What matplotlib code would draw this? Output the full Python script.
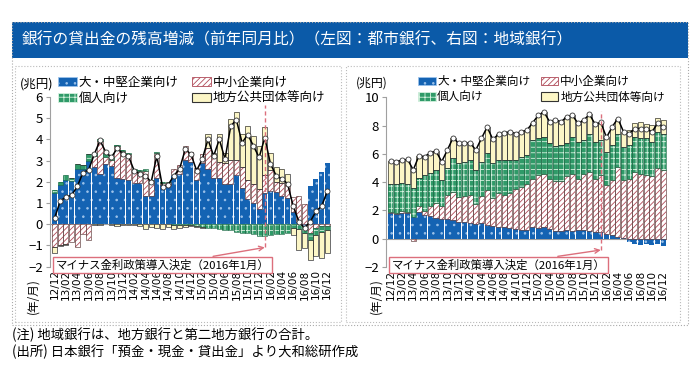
import numpy as np
import matplotlib.pyplot as plt
from matplotlib.patches import Rectangle, Patch

plt.rcParams['font.family'] = ['Noto Sans CJK JP', 'DejaVu Sans']
plt.rcParams['hatch.linewidth'] = 0.6

# months 2012/12 .. 2016/12
months = ['12/12'] + [f'{y:02d}/{m:02d}' for y in range(13, 17) for m in range(1, 13)]

labels = ['大・中堅企業向け', '中小企業向け', '個人向け', '地方公共団体等向け']

# left: city banks (trillion yen, y/y change)
city_large = [1.45, 1.85, 2.1, 2.05, 2.6, 2.6, 3.0, 2.7, 2.35, 2.85,
              2.75, 2.2, 2.15, 2.1, 1.95, 1.95, 1.35, 1.35, 2.2, 1.85,
              1.85, 2.3, 2.35, 3.05, 2.95, 2.1, 2.9, 2.6, 2.2, 2.2,
              1.9, 1.9, 2.3, 1.7, 1.2, 1.0, 0.7, 1.45, 1.55, 1.5,
              1.35, 1.25, 0.55, 0.1, -0.1, 1.8, 2.15, 2.45, 2.9]
city_small = [-1.1, -0.97, -0.95, -0.85, -1.1, -0.45, -0.75, 0.5, 1.55, 0.3,
              0.3, 1.5, 1.3, 1.2, 0.6, 0.55, 1.15, 0.75, 1.15, 0.1,
              0.15, 0.3, 0.45, 0.65, 0.45, 0.55, 0.4, 1.0, 1.0, 0.75,
              1.0, 1.15, 0.75, 1.0, 0.9, 0.9, 0.95, 0.85, 1.0, 0.5,
              0.6, 0.6, 0.75, 1.25, 0.95, -0.4, -0.2, -0.1, -0.1]
city_personal = [0.17, 0.15, 0.2, 0.15, 0.25, 0.2, 0.3, 0.15, 0.1, 0.2,
                 0.1, 0.05, 0.05, 0.05, 0.05, 0.05, 0.1, 0.0, 0.05, 0.05,
                 0.0, -0.05, -0.05, -0.05, -0.05, -0.1, -0.15, -0.2, -0.2, -0.25,
                 -0.3, -0.3, -0.35, -0.4, -0.4, -0.45, -0.55, -0.55, -0.5, -0.45,
                 -0.45, -0.4, -0.2, -0.25, -0.3, -0.35, -0.3, -0.25, -0.2]
city_local = [-0.25, -0.05, -0.05, 0.0, 0.0, 0.0, 0.0, -0.05, -0.05, 0.0,
              -0.05, -0.1, -0.05, -0.05, -0.05, -0.1, -0.25, -0.15, -0.2, -0.25,
              -0.15, -0.2, -0.15, -0.1, -0.05, -0.05, -0.05, 0.65, 0.15, 1.3,
              0.45, 1.9, 2.25, 1.55, 2.55, 2.25, 2.05, 2.3, 0.8, 0.7,
              0.65, 0.5, -0.3, -0.95, -0.75, -0.95, -1.0, -1.25, -1.05]
city_total = [0.28, 1.08, 1.29, 1.36, 1.78, 2.43, 2.56, 3.3, 3.95, 3.41,
              3.15, 3.57, 3.33, 3.22, 2.53, 2.37, 2.29, 1.98, 3.22, 1.75,
              1.86, 2.29, 2.6, 3.53, 3.3, 2.53, 3.07, 4.0, 3.22, 4.0,
              3.07, 4.62, 4.93, 3.84, 4.23, 3.69, 3.15, 4.08, 2.84, 2.29,
              2.14, 1.91, 0.85, 0.12, -0.19, 0.12, 0.6, 0.85, 1.55]

# right: regional banks
reg_large = [1.8, 1.75, 1.85, 1.8, 1.55, 1.9, 1.65, 1.6, 1.45, 1.4,
             1.4, 1.3, 1.2, 1.15, 1.1, 1.05, 1.1, 0.95, 0.9, 0.85,
             0.8, 0.75, 0.7, 0.65, 0.65, 0.8, 0.75, 0.8, 0.7, 0.55,
             0.55, 0.6, 0.55, 0.6, 0.6, 0.55, 0.5, 0.45, 0.3, 0.25,
             0.15, 0.05, -0.25, -0.4, -0.45, -0.35, -0.45, -0.4, -0.5]
reg_small = [0.1, 0.1, 0.1, 0.1, -0.15, 0.4, 0.3, 0.7, 1.1, 0.9,
             1.7, 2.0, 1.75, 1.85, 2.0, 1.4, 1.9, 2.5, 1.95, 2.35,
             2.3, 2.5, 2.85, 3.0, 3.25, 3.45, 3.75, 3.8, 3.55, 3.5,
             3.5, 3.8, 4.0, 3.65, 4.0, 4.2, 3.75, 4.05, 3.5, 3.9,
             4.95, 4.1, 4.25, 4.75, 4.6, 4.5, 4.4, 5.0, 4.85]
reg_personal = [2.0, 2.02, 1.97, 1.97, 2.05, 1.97, 2.55, 2.32, 2.31, 1.85,
                1.88, 2.38, 2.38, 2.45, 2.46, 2.41, 2.45, 2.58, 2.48, 2.36,
                2.5, 2.31, 2.01, 2.15, 2.0, 2.72, 2.59, 2.56, 2.49, 2.5,
                2.57, 2.34, 2.61, 2.6, 2.37, 2.69, 2.6, 2.47, 2.3, 2.47,
                2.34, 2.31, 2.37, 2.41, 2.49, 2.59, 2.45, 2.56, 2.54]
reg_local = [1.59, 1.58, 1.64, 1.74, 1.41, 1.6, 1.3, 1.46, 1.34, 1.3,
             1.29, 1.46, 1.41, 1.29, 1.22, 1.41, 1.64, 1.87, 1.69, 1.83,
             1.89, 2.0, 1.88, 1.76, 1.78, 1.22, 1.64, 1.81, 1.52, 1.88,
             1.64, 1.88, 1.57, 1.3, 1.41, 1.36, 1.25, 1.25, 1.06, 1.29,
             1.06, 1.1, 1.07, 1.03, 1.15, 1.05, 1.16, 0.99, 1.02]
reg_total = [5.49, 5.45, 5.56, 5.61, 4.86, 5.87, 5.8, 6.08, 6.2, 5.45,
             6.27, 7.14, 6.74, 6.74, 6.78, 6.27, 7.09, 7.9, 7.02, 7.39,
             7.49, 7.56, 7.44, 7.56, 7.68, 8.19, 8.73, 8.97, 8.26, 8.43,
             8.26, 8.62, 8.73, 8.15, 8.38, 8.8, 8.1, 8.22, 7.16, 7.91,
             8.5, 7.56, 7.44, 7.79, 7.79, 7.79, 7.56, 8.15, 7.91]

policy_month = '16/01'

styles = [
    dict(fc='#1463b3', hc='#9cc2ea', hatch='..', ec=None),
    dict(fc='white', hc='#b04a58', hatch='//////', ec='#6a4a4a'),
    dict(fc='#2f9a68', hc='#d6f2e0', hatch='+++', ec='#23704c'),
    dict(fc='#fcf6c6', hc=None, hatch=None, ec='#333333'),
]
red = '#dc6f7c'
gray = '#a0a0a0'

fig = plt.figure(figsize=(7, 3.79), dpi=100)
W, H = 700, 379


def fx(px):
    return px / W


def fy(py):
    return 1 - py / H


def draw_panel(ax, comps, total, ylim, yticks, fs_leg, leg_anchor, colsp, dash_top, tip_y, box_xy):
    x = np.arange(len(months))
    pos = np.zeros(len(x))
    neg = np.zeros(len(x))
    for vals, st in zip(comps, styles):
        v = np.array(vals)
        bottom = np.where(v >= 0, pos, neg)
        if st['hatch']:
            ax.bar(x, v, 0.9, bottom=bottom, color=st['fc'], edgecolor=st['hc'],
                   hatch=st['hatch'], linewidth=0, zorder=2)
        else:
            ax.bar(x, v, 0.9, bottom=bottom, color=st['fc'], linewidth=0, zorder=2)
        if st['ec']:
            ax.bar(x, v, 0.9, bottom=bottom, fill=False, edgecolor=st['ec'],
                   linewidth=0.5, zorder=2.5)
        pos = pos + np.where(v >= 0, v, 0)
        neg = neg + np.where(v < 0, v, 0)

    ax.plot(x, total, color='black', lw=1.1, marker='o', ms=3.6, mfc='white',
            mec='#333333', mew=0.6, zorder=4)

    ax.axhline(0, color=gray, lw=0.8, zorder=1)
    ax.set_xlim(-0.8, len(x) - 0.35)
    ax.set_ylim(*ylim)
    ax.set_yticks(yticks)
    ax.tick_params(axis='y', labelsize=9.5, length=3, color=gray, pad=2)
    ax.set_xticks(x[::2])
    ax.set_xticklabels(months[::2], rotation=90, fontsize=7.6,
                       family=['DejaVu Sans'])
    ax.tick_params(axis='x', length=0, pad=2)
    for s in ['top', 'right', 'bottom']:
        ax.spines[s].set_visible(False)
    ax.spines['left'].set_color(gray)

    # policy decision marker
    idx = months.index(policy_month)
    y0, y1 = ylim
    ax.axvline(idx, ymin=(tip_y - y0) / (y1 - y0), ymax=(dash_top - y0) / (y1 - y0),
               color=red, ls=(0, (3, 2)), lw=1, zorder=5)
    ax.annotate('マイナス金利政策導入決定（2016年1月）', xy=(idx, tip_y),
                xytext=box_xy, textcoords='figure fraction', ha='left', va='center',
                fontsize=8.2,
                bbox=dict(boxstyle='square,pad=0.22', fc='white', ec=red, lw=1),
                arrowprops=dict(arrowstyle='->', color=red, lw=1, shrinkA=0, shrinkB=0),
                annotation_clip=False, zorder=6)

    handles = []
    for st in styles:
        if st['hatch']:
            handles.append(Patch(facecolor=st['fc'], edgecolor=st['hc'], hatch=st['hatch'], lw=0.6))
        else:
            handles.append(Patch(facecolor=st['fc'], edgecolor=st['ec'], lw=0.8))
    order = [0, 2, 1, 3]
    ax.legend([handles[i] for i in order], [labels[i] for i in order], ncol=2,
              loc='upper left', bbox_to_anchor=leg_anchor, bbox_transform=fig.transFigure,
              frameon=False, fontsize=fs_leg, borderpad=0, borderaxespad=0,
              handlelength=1.5, handleheight=0.75, handletextpad=0.15,
              columnspacing=colsp, labelspacing=0.22)


# title bar and frames
fig.patches.append(Rectangle((fx(12), fy(58)), fx(676), 36 / H, transform=fig.transFigure,
                             facecolor='#0b5aa8', edgecolor='none'))
fig.text(fx(22), fy(40), '銀行の貸出金の残高増減（前年同月比）（左図：都市銀行、右図：地域銀行）',
         color='white', fontsize=11.3, va='center', ha='left')
fig.patches.append(Rectangle((fx(12), fy(325)), fx(676), 303 / H, transform=fig.transFigure,
                             fill=False, edgecolor='#aaaaaa', ls=':', lw=0.8))
for x0, x1 in [(15, 341), (346, 680)]:
    fig.patches.append(Rectangle((fx(x0), fy(322)), fx(x1 - x0), 256 / H,
                                 transform=fig.transFigure, fill=False,
                                 edgecolor='#bbbbbb', ls=':', lw=0.8))

ax1 = fig.add_axes([fx(50), fy(266.5), fx(281), (266.5 - 97) / H])
draw_panel(ax1, [city_large, city_small, city_personal, city_local], city_total,
           (-2, 6), range(-2, 7), 9, (fx(58), fy(76)), 1.1, 5.6, -1.1,
           (fx(56), fy(265)))

ax2 = fig.add_axes([fx(386), fy(267), fx(281), (267 - 97.3) / H])
draw_panel(ax2, [reg_large, reg_small, reg_personal, reg_local], reg_total,
           (-2, 10), range(-2, 11, 2), 8.4, (fx(418), fy(75)), 0.9, 9.0, -0.8,
           (fx(392), fy(265)))

fig.text(fx(20), fy(84), '(兆円)', fontsize=9, va='center')
fig.text(fx(356), fy(83), '(兆円)', fontsize=8.6, va='center')
fig.text(fx(33), fy(296), '(年/月)', fontsize=8.4, rotation=90, va='center', ha='center')
fig.text(fx(376), fy(296), '(年/月)', fontsize=8.4, rotation=90, va='center', ha='center')

fig.text(fx(12), fy(335), '(注) 地域銀行は、地方銀行と第二地方銀行の合計。', fontsize=9.6, va='center')
fig.text(fx(12), fy(352), '(出所) 日本銀行「預金・現金・貸出金」より大和総研作成', fontsize=9.6, va='center')

fig.savefig('out.png', dpi=100)
